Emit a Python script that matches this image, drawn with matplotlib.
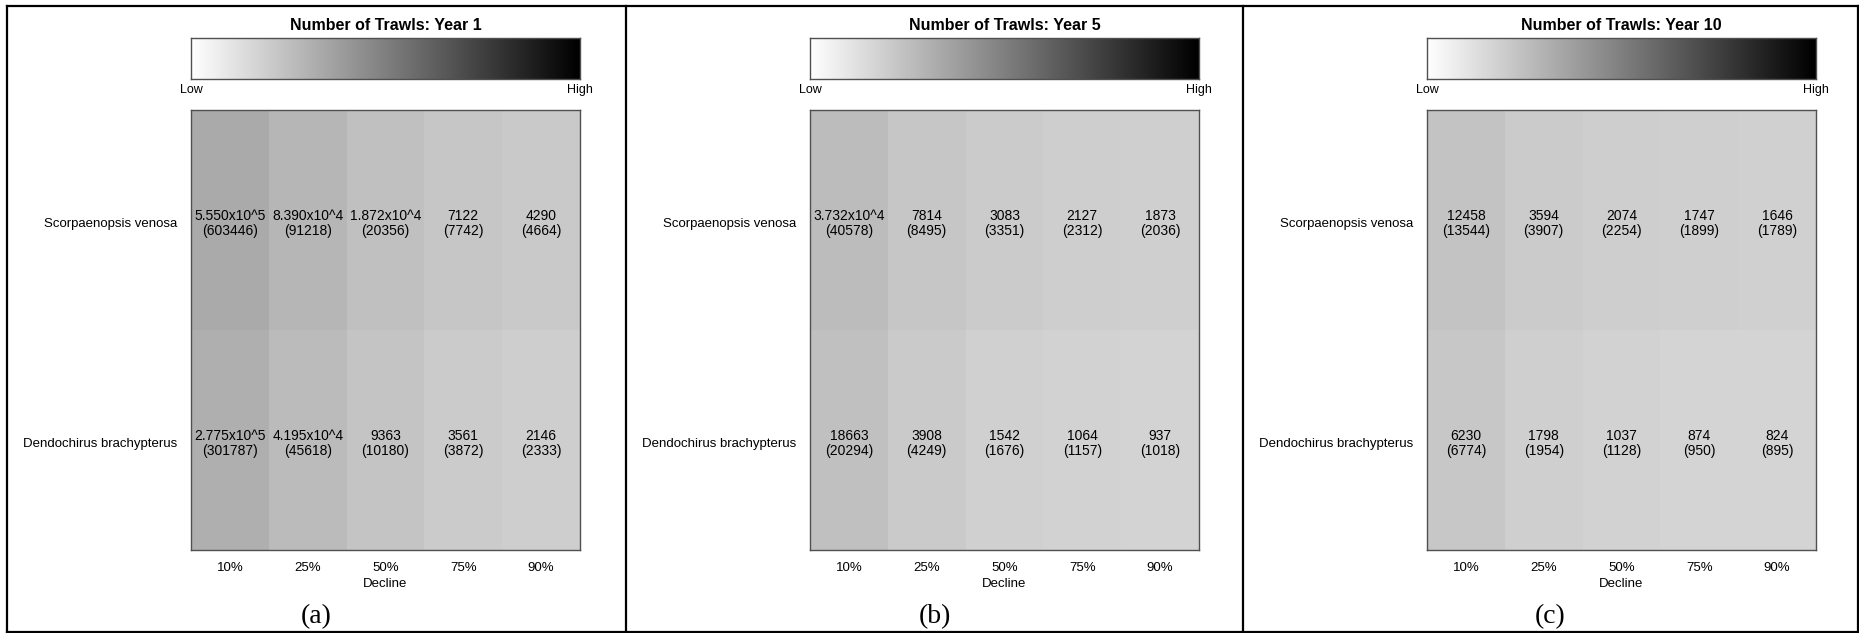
import matplotlib.pyplot as plt
import numpy as np
from matplotlib.colors import LinearSegmentedColormap, LogNorm
from matplotlib.lines import Line2D

plt.rcParams["font.family"] = ["Liberation Sans", "DejaVu Sans"]

DECLINES = ["10%", "25%", "50%", "75%", "90%"]
SPECIES = ["Scorpaenopsis venosa", "Dendochirus brachypterus"]
YEARS = [1, 5, 10]
PANEL_TAGS = ["(a)", "(b)", "(c)"]

# printed estimate per cell (top line) and upper value (bracketed)
Y1_LABELS = [["5.550x10^5", "8.390x10^4", "1.872x10^4", "7122", "4290"],
             ["2.775x10^5", "4.195x10^4", "9363", "3561", "2146"]]
Y1_UPPER = [[603446, 91218, 20356, 7742, 4664],
            [301787, 45618, 10180, 3872, 2333]]
Y5_LABELS = [["3.732x10^4", "7814", "3083", "2127", "1873"],
             ["18663", "3908", "1542", "1064", "937"]]
Y5_UPPER = [[40578, 8495, 3351, 2312, 2036],
            [20294, 4249, 1676, 1157, 1018]]
Y10_LABELS = [["12458", "3594", "2074", "1747", "1646"],
              ["6230", "1798", "1037", "874", "824"]]
Y10_UPPER = [[13544, 3907, 2254, 1899, 1789],
             [6774, 1954, 1128, 950, 895]]

LABELS = [Y1_LABELS, Y5_LABELS, Y10_LABELS]
UPPER = [Y1_UPPER, Y5_UPPER, Y10_UPPER]

W, H = 1859, 633
CMAP = LinearSegmentedColormap.from_list("wb", ["#ffffff", "#000000"])
NORM = LogNorm(vmin=1, vmax=10 ** 17.35)


def px_rect(x0, y0, x1, y1):
    # pixel box (top-left origin) -> figure fraction rect
    return [x0 / W, 1 - y1 / H, (x1 - x0) / W, (y1 - y0) / H]


fig = plt.figure(figsize=(W / 100, H / 100), dpi=100)

panel_left = [7, 626, 1243]
panel_right = [626, 1243, 1858]
for i, left in enumerate(panel_left):
    hx0 = left + 184
    hx1 = hx0 + 389

    # colour key
    cax = fig.add_axes(px_rect(hx0, 38, hx1, 79))
    grad = np.linspace(0, 1, 256)[None, :]
    cax.imshow(grad, aspect="auto", cmap=CMAP, extent=[0, 1, 0, 1])
    cax.set_xticks([])
    cax.set_yticks([])
    for s in cax.spines.values():
        s.set_color("#505050")
        s.set_linewidth(1)
    cax.set_title(f"Number of Trawls: Year {YEARS[i]}", fontsize=11.5,
                  fontweight="bold", pad=6)
    cax.text(0, -0.28, "Low", transform=cax.transAxes, ha="center",
             va="center", fontsize=9)
    cax.text(1, -0.28, "High", transform=cax.transAxes, ha="center",
             va="center", fontsize=9)

    # heatmap
    ax = fig.add_axes(px_rect(hx0, 110, hx1, 550))
    vals = np.array(UPPER[i], dtype=float)
    ax.pcolormesh(np.arange(6), np.arange(3), vals[::-1], cmap=CMAP,
                  norm=NORM, shading="flat")
    ax.set_xlim(0, 5)
    ax.set_ylim(0, 2)
    for r, sp in enumerate(SPECIES):
        yc = 1.5 - r - 0.016
        for c in range(len(DECLINES)):
            ax.text(c + 0.5, yc, f"{LABELS[i][r][c]}\n({UPPER[i][r][c]})",
                    ha="center", va="center", fontsize=10, linespacing=1.05)
        ax.text(-0.18, yc, sp, ha="right", va="center", fontsize=9.5)
    ax.set_xticks([])
    ax.set_yticks([])
    for s in ax.spines.values():
        s.set_color("#505050")
        s.set_linewidth(1)
    for c, lab in enumerate(DECLINES):
        ax.text(c + 0.5, -0.083, lab, ha="center", va="center", fontsize=9.5)
    ax.text(2.5, -0.153, "Decline", ha="center", va="center", fontsize=9.5)

    fig.text((left + panel_right[i]) / 2 / W, 1 - 617 / H, PANEL_TAGS[i],
             ha="center", va="center", fontsize=20,
             family=["Liberation Serif"])

# panel frames
lw = 1.6
for x in panel_left + [1858]:
    fig.add_artist(Line2D([x / W, x / W], [1 - 6 / H, 1 - 632 / H],
                          color="black", lw=lw))
for y in [6, 632]:
    fig.add_artist(Line2D([7 / W, 1858 / W], [1 - y / H, 1 - y / H],
                          color="black", lw=lw))

fig.savefig("out.png", dpi=100)
